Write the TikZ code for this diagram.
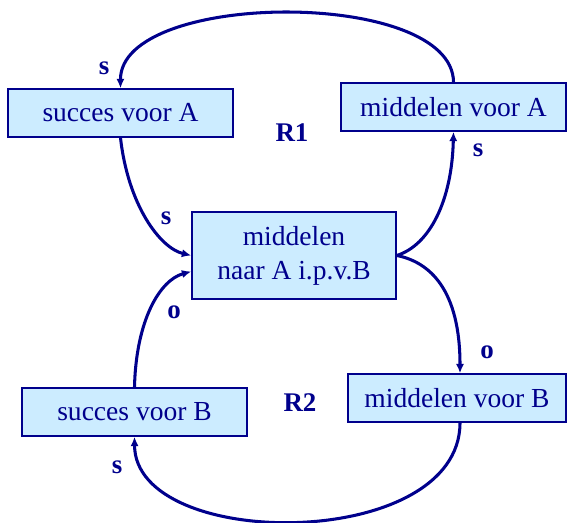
\documentclass[tikz,border=0pt]{standalone}
\usepackage{fontspec}
\setmainfont{Liberation Serif}
\usepackage{tikz}
\usetikzlibrary{arrows.meta,positioning,calc}
\definecolor{navy}{RGB}{0,0,140}
\definecolor{boxfill}{RGB}{204,236,255}

\begin{document}
\begin{tikzpicture}[
    x=0.03cm,
    y=-0.03cm,
    block/.style={
        rectangle,
        draw=navy,
        line width=1.3pt,
        fill=boxfill,
        text=navy,
        font=\fontsize{23.5}{29}\selectfont,
        align=center,
        minimum width=6.75cm,
        minimum height=1.44cm,
        inner sep=0pt
    },
    sign/.style={
        text=navy,
        font=\bfseries\fontsize{23}{27}\selectfont,
        inner sep=0pt
    },
    line/.style={
        draw=navy,
        line width=2.6pt,
        -{Latex[length=8pt,width=7pt]}
    }
]

\useasboundingbox (0,0) rectangle (568,522);

% Nodes
\node [block] (sucA) at (120.5,113) {succes voor A};
\node [block] (midA) at (453.5,107) {middelen voor A};
\node [block, minimum width=6.12cm, minimum height=2.61cm] (mid) at (294,255.5) {middelen\\naar A i.p.v.B};
\node [block] (sucB) at (134.5,412) {succes voor B};
\node [block, minimum width=6.54cm] (midB) at (457,398) {middelen voor B};

% Signs and loops
\node [sign] (sTop) at (104,68) {s};
\node [sign] (sMidA) at (478,150) {s};
\node [sign] (sIn) at (166,218) {s};
\node [sign] (oIn) at (174,312) {o};
\node [sign] (oMidB) at (487,352) {o};
\node [sign] (sBot) at (117,467) {s};
\node [sign] (loopA) at (292,133) {R1};
\node [sign] (loopB) at (300,403) {R2};

% Edges
\path [line] (midA.north) .. controls (453,-12) and (120,-10) .. (sucA.north);
\path [line] (sucA.south) .. controls (128,205) and (160,248) .. (mid.west);
\path [line] (sucB.north) .. controls (136,320) and (160,280) .. ($(mid.west)+(0,16)$);
\path [line] (mid.east) .. controls (430,245) and (452,200) .. (midA.south);
\path [line] (mid.east) .. controls (430,262) and (460,290) .. ($(midB.north)+(3,0)$);
\path [line] ($(midB.south)+(3,0)$) .. controls (460,552) and (135,552) .. (sucB.south);

\end{tikzpicture}
\end{document}
